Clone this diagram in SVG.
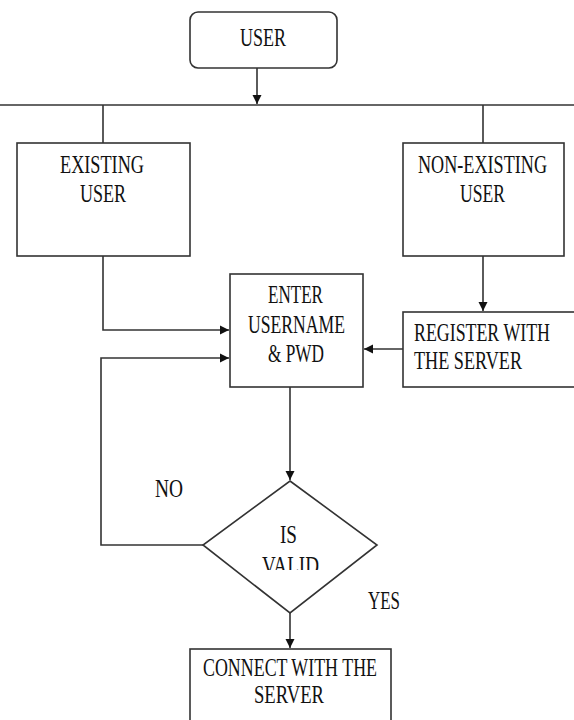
<svg xmlns="http://www.w3.org/2000/svg" width="574" height="720" viewBox="0 0 574 720">
<defs>
<style>
.box{fill:#fff;stroke:#333;stroke-width:1.6}
.ln{fill:none;stroke:#333;stroke-width:1.6}
.t{font-family:"Liberation Serif","Times New Roman",serif;font-size:19px;fill:#111}
</style>
<marker id="ah" markerWidth="10" markerHeight="10" refX="9" refY="5" orient="auto" markerUnits="userSpaceOnUse">
<path d="M0,0.5 L9,5 L0,9.5 Z" fill="#111"/>
</marker>
<clipPath id="vclip"><rect x="200" y="540" width="180" height="30"/></clipPath>
</defs>
<rect width="574" height="720" fill="#fff"/>
<g id="connectors">
<line class="ln" x1="257" y1="68" x2="257" y2="104" marker-end="url(#ah)"/>
<line class="ln" x1="0" y1="105" x2="574" y2="105"/>
<line class="ln" x1="103" y1="105" x2="103" y2="143"/>
<line class="ln" x1="483" y1="105" x2="483" y2="143"/>
<polyline class="ln" points="103,256 103,330 229,330" marker-end="url(#ah)"/>
<line class="ln" x1="483" y1="256" x2="483" y2="311" marker-end="url(#ah)"/>
<line class="ln" x1="403" y1="349" x2="364" y2="349" marker-end="url(#ah)"/>
<line class="ln" x1="290" y1="387" x2="290" y2="480" marker-end="url(#ah)"/>
<polyline class="ln" points="203,545 101,545 101,358 229,358" marker-end="url(#ah)"/>
<line class="ln" x1="290" y1="613" x2="290" y2="648" marker-end="url(#ah)"/>
<text class="t" transform="translate(155,497) scale(1,1.35)" textLength="28" lengthAdjust="spacingAndGlyphs">NO</text>
<text class="t" transform="translate(368,609) scale(1,1.35)" textLength="32" lengthAdjust="spacingAndGlyphs">YES</text>
</g>
<g id="user">
<rect class="box" x="190" y="12" width="147" height="56" rx="8"/>
<text class="t" transform="translate(240,46) scale(1,1.35)" textLength="46" lengthAdjust="spacingAndGlyphs">USER</text>
</g>
<g id="existing">
<rect class="box" x="17" y="143" width="173" height="113"/>
<text class="t" transform="translate(60,173) scale(1,1.35)" textLength="84" lengthAdjust="spacingAndGlyphs">EXISTING</text>
<text class="t" transform="translate(80,202) scale(1,1.35)" textLength="46" lengthAdjust="spacingAndGlyphs">USER</text>
</g>
<g id="nonexisting">
<rect class="box" x="403" y="143" width="161" height="113"/>
<text class="t" transform="translate(418,173) scale(1,1.35)" textLength="129" lengthAdjust="spacingAndGlyphs">NON-EXISTING</text>
<text class="t" transform="translate(460,202) scale(1,1.35)" textLength="45" lengthAdjust="spacingAndGlyphs">USER</text>
</g>
<g id="register">
<rect class="box" x="403" y="312" width="180" height="75"/>
<text class="t" transform="translate(414,341) scale(1,1.35)" textLength="136" lengthAdjust="spacingAndGlyphs">REGISTER WITH</text>
<text class="t" transform="translate(414,369) scale(1,1.35)" textLength="108" lengthAdjust="spacingAndGlyphs">THE SERVER</text>
</g>
<g id="enter">
<rect class="box" x="230" y="274" width="133" height="113"/>
<text class="t" transform="translate(268,303) scale(1,1.35)" textLength="55" lengthAdjust="spacingAndGlyphs">ENTER</text>
<text class="t" transform="translate(248,333) scale(1,1.35)" textLength="97" lengthAdjust="spacingAndGlyphs">USERNAME</text>
<text class="t" transform="translate(268,362) scale(1,1.35)" textLength="56" lengthAdjust="spacingAndGlyphs">&amp; PWD</text>
</g>
<g id="isvalid">
<polygon class="box" points="290,481 377,545 290,613 203,545"/>
<text class="t" transform="translate(280,543) scale(1,1.35)" textLength="17" lengthAdjust="spacingAndGlyphs">IS</text>
<g clip-path="url(#vclip)">
<text class="t" transform="translate(262,574) scale(1,1.35)" textLength="57" lengthAdjust="spacingAndGlyphs">VALID</text>
</g>
</g>
<g id="connect">
<rect class="box" x="190" y="649" width="201" height="80"/>
<text class="t" transform="translate(203,676) scale(1,1.35)" textLength="174" lengthAdjust="spacingAndGlyphs">CONNECT WITH THE</text>
<text class="t" transform="translate(254,703) scale(1,1.35)" textLength="70" lengthAdjust="spacingAndGlyphs">SERVER</text>
</g>
</svg>
